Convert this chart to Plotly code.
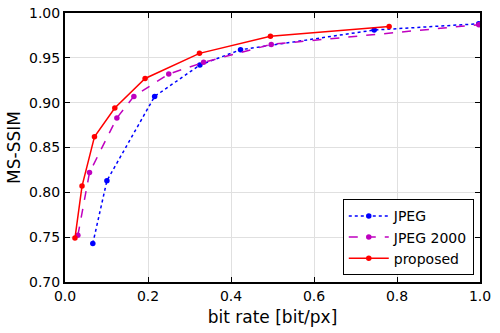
import plotly.graph_objects as go

jpeg_x = [0.067, 0.101, 0.216, 0.325, 0.423, 0.745, 0.997]
jpeg_y = [0.743, 0.813, 0.907, 0.942, 0.959, 0.981, 0.988]

j2k_x = [0.031, 0.059, 0.125, 0.166, 0.25, 0.334, 0.497, 0.997]
j2k_y = [0.752, 0.822, 0.883, 0.907, 0.932, 0.945, 0.965, 0.987]

prop_x = [0.024, 0.041, 0.071, 0.12, 0.193, 0.324, 0.495, 0.781]
prop_y = [0.749, 0.807, 0.862, 0.894, 0.927, 0.955, 0.974, 0.985]

x_ticks = [0.0, 0.2, 0.4, 0.6, 0.8, 1.0]
y_ticks = [0.70, 0.75, 0.80, 0.85, 0.90, 0.95, 1.00]

fig = go.Figure()
fig.add_trace(go.Scatter(x=jpeg_x, y=jpeg_y, name="JPEG", mode="lines+markers",
                         line=dict(color="#0000ff", width=1.5, dash="dot"),
                         marker=dict(color="#0000ff", size=5.5)))
fig.add_trace(go.Scatter(x=j2k_x, y=j2k_y, name="JPEG 2000", mode="lines+markers",
                         line=dict(color="#bf00bf", width=1.5, dash="dash"),
                         marker=dict(color="#bf00bf", size=5.5)))
fig.add_trace(go.Scatter(x=prop_x, y=prop_y, name="proposed", mode="lines+markers",
                         line=dict(color="#ff0000", width=1.5),
                         marker=dict(color="#ff0000", size=5.5)))

axis_common = dict(showline=True, linecolor="black", linewidth=2, mirror="allticks",
                   ticks="inside", ticklen=5, tickcolor="black", tickwidth=1,
                   showgrid=True, gridcolor="#e0e0e0", gridwidth=1, zeroline=False,
                   tickfont=dict(size=14, color="black"))

fig.update_layout(
    width=500, height=333,
    margin=dict(l=65, r=20, t=13, b=51, autoexpand=False),
    paper_bgcolor="white", plot_bgcolor="white",
    font=dict(family="DejaVu Sans", color="black"),
    xaxis=dict(range=[0, 1], tickvals=x_ticks, ticktext=[f"{v:.1f}" for v in x_ticks],
               automargin=False,
               title=dict(text="bit rate [bit/px]", font=dict(size=17), standoff=8), **axis_common),
    yaxis=dict(range=[0.70, 1.00], tickvals=y_ticks, ticktext=[f"{v:.2f}" for v in y_ticks],
               automargin=False,
               title=dict(text="MS-SSIM", font=dict(size=17), standoff=4), **axis_common),
    legend=dict(x=0.985, y=0.025, xanchor="right", yanchor="bottom",
                bordercolor="black", borderwidth=1, bgcolor="white",
                font=dict(size=14), tracegroupgap=0, itemwidth=40),
    showlegend=True,
)

fig.write_html("out.html")
